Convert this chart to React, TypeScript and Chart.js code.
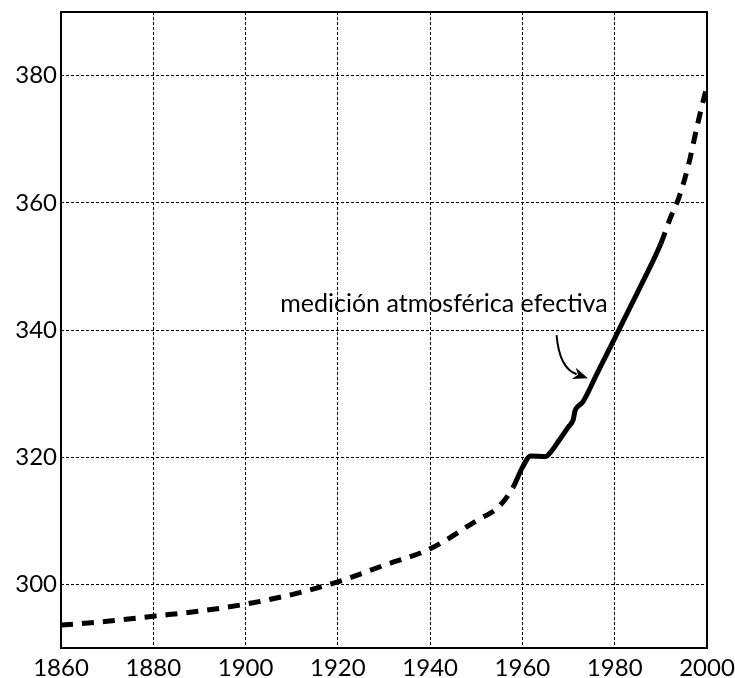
import React, { useEffect, useRef } from "react";
import { Chart, registerables } from "chart.js";

Chart.register(...registerables);

// Year / CO2 concentration (ppm)
const years = [1860, 1870, 1880, 1890, 1900, 1910, 1920, 1930, 1940, 1950, 1955, 1958, 1960, 1961.8, 1965, 1966, 1968, 1970, 1971, 1971.4, 1972.2, 1973.1, 1976, 1980, 1985, 1990, 1992, 1994, 1996, 1998, 2000];
const co2 = [293.6, 294.2, 295.0, 295.8, 296.9, 298.4, 300.4, 303.0, 305.6, 310.0, 312.3, 315.3, 318.4, 320.2, 320.1, 320.7, 322.7, 324.8, 325.9, 327.3, 328.1, 328.7, 332.9, 338.7, 346.0, 353.6, 357.5, 361.0, 366.0, 372.5, 378.4];

// Measured (solid) period
const measuredStart = 1958;
const measuredEnd = 1990;

const xTicks = [1860, 1880, 1900, 1920, 1940, 1960, 1980, 2000];
const yTicks = [300, 320, 340, 360, 380];
const xRange = [1860, 2000];
const yRange = [290, 390];

const annotationText = "medición atmosférica efectiva";
const annotationAt = [1907.5, 342.8]; // text start (year, ppm)
const arrowStart = [1967.4, 339.2];
const arrowControl = [1968.0, 334.0];
const arrowTip = [1974.2, 332.4];

const FONT = "Lato, 'Open Sans', sans-serif";

const overlayPlugin = {
  id: "overlay",
  beforeDatasetsDraw(chart: any) {
    const { ctx, chartArea } = chart;
    const { left, top, right, bottom } = chartArea;
    ctx.save();
    ctx.strokeStyle = "#000";
    ctx.lineWidth = 2;
    ctx.setLineDash([]);
    ctx.strokeRect(left, top, right - left, bottom - top);
    ctx.restore();
  },
  afterDatasetsDraw(chart: any) {
    const { ctx } = chart;
    const xs = chart.scales.x;
    const ys = chart.scales.y;
    ctx.save();
    ctx.fillStyle = "#000";
    ctx.font = `25px ${FONT}`;
    ctx.textBaseline = "alphabetic";
    ctx.textAlign = "left";
    ctx.fillText(annotationText, xs.getPixelForValue(annotationAt[0]), ys.getPixelForValue(annotationAt[1]));

    const sx = xs.getPixelForValue(arrowStart[0]);
    const sy = ys.getPixelForValue(arrowStart[1]);
    const cx = xs.getPixelForValue(arrowControl[0]);
    const cy = ys.getPixelForValue(arrowControl[1]);
    const tx = xs.getPixelForValue(arrowTip[0]);
    const ty = ys.getPixelForValue(arrowTip[1]);
    const ang = Math.atan2(ty - cy, tx - cx);
    const headLen = 15;
    const headW = 6;
    const bx = tx - headLen * 0.8 * Math.cos(ang);
    const by = ty - headLen * 0.8 * Math.sin(ang);
    ctx.strokeStyle = "#000";
    ctx.lineWidth = 2;
    ctx.setLineDash([]);
    ctx.beginPath();
    ctx.moveTo(sx, sy);
    ctx.quadraticCurveTo(cx, cy, bx, by);
    ctx.stroke();
    const hx = tx - headLen * Math.cos(ang);
    const hy = ty - headLen * Math.sin(ang);
    ctx.beginPath();
    ctx.moveTo(tx, ty);
    ctx.lineTo(hx + headW * Math.sin(ang), hy - headW * Math.cos(ang));
    ctx.lineTo(tx - headLen * 0.7 * Math.cos(ang), ty - headLen * 0.7 * Math.sin(ang));
    ctx.lineTo(hx - headW * Math.sin(ang), hy + headW * Math.cos(ang));
    ctx.closePath();
    ctx.fill();
    ctx.restore();
  },
};

export default function App() {
  const ref = useRef<HTMLCanvasElement | null>(null);

  useEffect(() => {
    document.body.style.margin = "0";
    const canvas = ref.current;
    if (!canvas) return;
    const points = years.map((x, i) => ({ x, y: co2[i] }));
    const chart = new Chart(canvas, {
      type: "line",
      data: {
        datasets: [
          {
            data: points,
            borderColor: "#000",
            borderWidth: 5,
            borderCapStyle: "butt",
            borderJoinStyle: "round",
            pointRadius: 0,
            cubicInterpolationMode: "monotone",
            fill: false,
            segment: {
              borderDash: (c: any) => {
                const x0 = c.p0.parsed.x;
                const x1 = c.p1.parsed.x;
                return x0 >= measuredStart && x1 <= measuredEnd ? [] : [12, 9];
              },
            },
          },
        ],
      },
      options: {
        animation: false,
        responsive: false,
        maintainAspectRatio: false,
        layout: { padding: { top: 12, right: 28, left: 0, bottom: 0 } },
        plugins: { legend: { display: false }, tooltip: { enabled: false } },
        scales: {
          x: {
            type: "linear",
            min: xRange[0],
            max: xRange[1],
            afterBuildTicks: (s: any) => {
              s.ticks = xTicks.map((v) => ({ value: v }));
            },
            afterFit: (s: any) => {
              s.height = 30;
              s.paddingLeft = 0;
              s.paddingRight = 0;
            },
            ticks: {
              color: "#000",
              padding: 6,
              maxRotation: 0,
              autoSkip: false,
              font: { family: FONT, size: 24 },
              callback: (v: any) => String(v),
            },
            grid: {
              drawTicks: false,
              color: (c: any) => (c.tick && (c.tick.value === xRange[0] || c.tick.value === xRange[1]) ? "rgba(0,0,0,0)" : "#000"),
              lineWidth: 1,
            },
            border: { display: false, dash: [3, 2] },
          },
          y: {
            type: "linear",
            min: yRange[0],
            max: yRange[1],
            afterBuildTicks: (s: any) => {
              s.ticks = yTicks.map((v) => ({ value: v }));
            },
            afterFit: (s: any) => {
              s.width = 61;
              s.paddingTop = 0;
              s.paddingBottom = 0;
            },
            ticks: {
              color: "#000",
              padding: 4,
              autoSkip: false,
              font: { family: FONT, size: 24 },
              callback: (v: any) => String(v),
            },
            grid: { drawTicks: false, color: "#000", lineWidth: 1 },
            border: { display: false, dash: [3, 2] },
          },
        },
      },
      plugins: [overlayPlugin],
    });
    return () => chart.destroy();
  }, []);

  return (
    <div style={{ width: 735, height: 678, background: "#fff" }}>
      <canvas ref={ref} width={735} height={678} style={{ display: "block" }} />
    </div>
  );
}
